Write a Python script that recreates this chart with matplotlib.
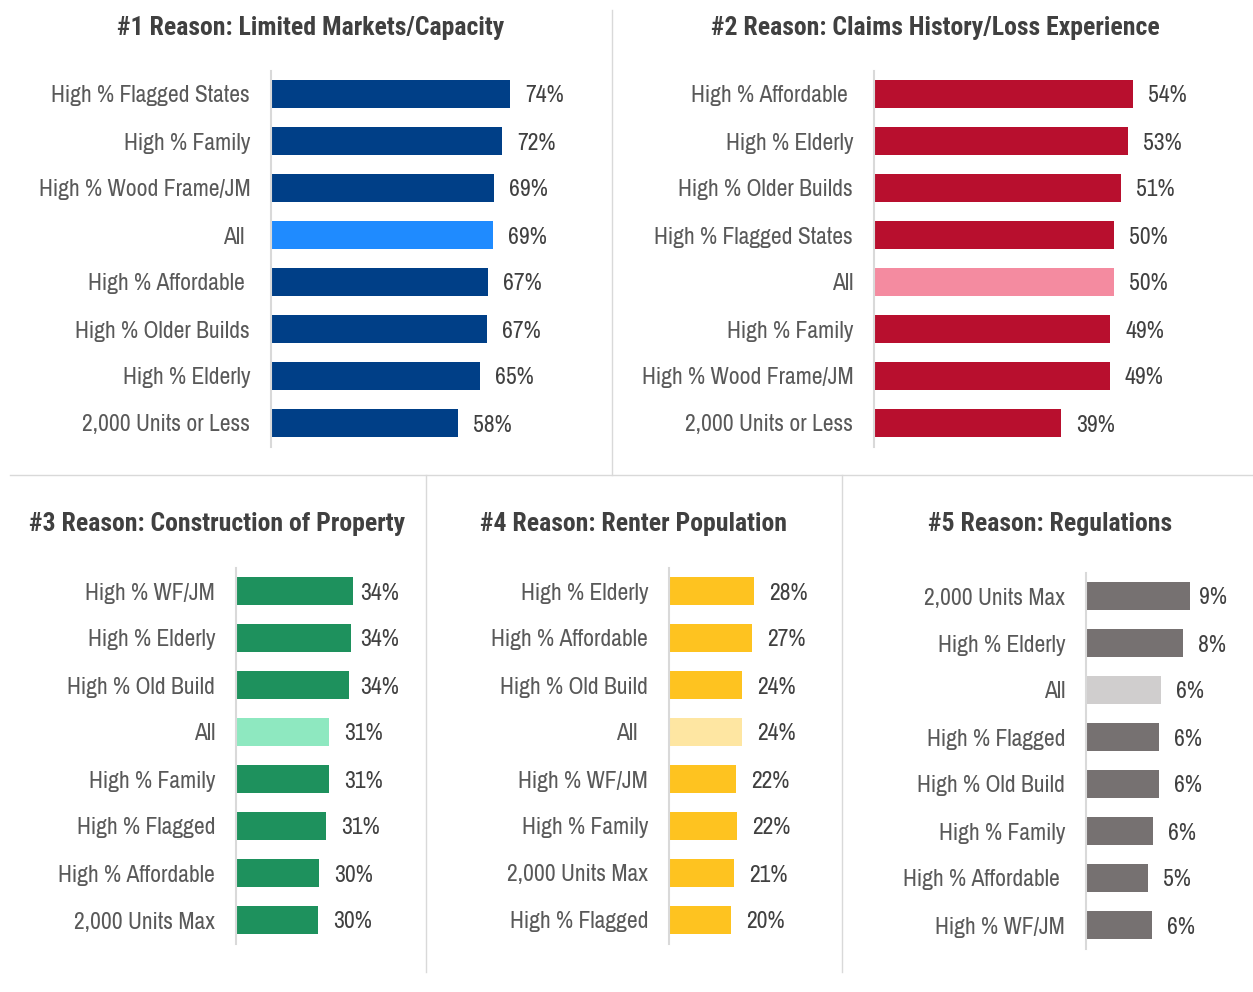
import matplotlib
matplotlib.use("Agg")
from matplotlib import pyplot as plt
from matplotlib.lines import Line2D
import warnings

warnings.filterwarnings("ignore")
LABEL_FONT = ['Archivo Narrow', 'Liberation Sans Narrow', 'DejaVu Sans']
TITLE_FONT = ['Roboto Condensed', 'Asap Condensed', 'DejaVu Sans']
plt.rcParams['font.family'] = LABEL_FONT

W, H = 1253, 992

# data
titles = [
    "#1 Reason: Limited Markets/Capacity",
    "#2 Reason: Claims History/Loss Experience",
    "#3 Reason: Construction of Property",
    "#4 Reason: Renter Population",
    "#5 Reason: Regulations",
]

cats1 = ["High % Flagged States", "High % Family", "High % Wood Frame/JM", "All ",
         "High % Affordable ", "High % Older Builds", "High % Elderly", "2,000 Units or Less"]
vals1 = [74.1, 71.6, 68.9, 68.6, 67.1, 66.8, 64.6, 57.9]

cats2 = ["High % Affordable ", "High % Elderly", "High % Older Builds", "High % Flagged States",
         "All", "High % Family", "High % Wood Frame/JM", "2,000 Units or Less"]
vals2 = [53.9, 52.9, 51.4, 49.9, 49.9, 49.2, 49.1, 38.9]

cats3 = ["High % WF/JM", "High % Elderly", "High % Old Build", "All",
         "High % Family", "High % Flagged", "High % Affordable", "2,000 Units Max"]
vals3 = [34.1, 33.9, 33.6, 31.2, 31.2, 30.8, 30.0, 29.9]

cats4 = ["High % Elderly", "High % Affordable", "High % Old Build", "All  ",
         "High % WF/JM", "High % Family", "2,000 Units Max", "High % Flagged"]
vals4 = [28.0, 27.3, 24.0, 23.9, 22.0, 22.3, 21.3, 20.4]

cats5 = ["2,000 Units Max", "High % Elderly", "All", "High % Flagged",
         "High % Old Build", "High % Family", "High % Affordable ", "High % WF/JM"]
vals5 = [8.9, 8.3, 6.4, 6.2, 6.2, 5.7, 5.3, 5.6]

colors = [("#003f87", "#1f8bff"), ("#b80f2e", "#f48ba0"), ("#1e915d", "#8ee8c0"),
          ("#fec320", "#fee6a2"), ("#767171", "#d0cece")]

# layout: axis x, axes top, width, xmin, px per %, label cap x, title center x, title y
layout = [
    (271, 70.5, 330, 0, 3.23, 9999, 311, 28),
    (874, 70.5, 370, 0, 4.8, 9999, 935, 28),
    (236, 567.5, 180, 20, 8.3, 360, 217, 524),
    (669, 567.5, 165, 0, 3.05, 9999, 633, 524),
    (1086, 572.5, 160, 0, 11.7, 1199, 1050, 524),
]

panels = [(cats1, vals1), (cats2, vals2), (cats3, vals3), (cats4, vals4), (cats5, vals5)]

fig = plt.figure(figsize=(W / 100, H / 100), dpi=100)

for (cats, vals), (dark, light), title, (ax_x, top, width, xmin, k, cap, tx, ty) in zip(
        panels, colors, titles, layout):
    height = 47 * len(cats)
    ax = fig.add_axes([ax_x / W, 1 - (top + height) / H, width / W, height / H])
    pos = list(range(len(cats)))
    bar_colors = [light if c.strip() == "All" else dark for c in cats]
    ax.barh(pos, [v - xmin for v in vals], left=xmin, height=0.58, color=bar_colors)
    ax.set_xlim(xmin, xmin + width / k)
    ax.set_ylim(len(cats) - 0.5, -0.5)
    ax.set_yticks(pos)
    ax.set_yticklabels(cats, fontsize=17, color="#595959")
    ax.tick_params(axis='y', length=0, pad=15)
    ax.set_xticks([])
    for s in ["top", "right", "bottom"]:
        ax.spines[s].set_visible(False)
    ax.spines["left"].set_color("#d9d9d9")
    ax.spines["left"].set_linewidth(1.5)
    cap_data = xmin + (cap - ax_x) / k
    for p, v in zip(pos, vals):
        x = min(v + 15 / k, cap_data)
        ax.text(x, p, f"{v:.0f}%", fontsize=17, color="#404040", va="center_baseline", ha="left")
    fig.text(tx / W, 1 - ty / H, title, fontsize=18.5, fontweight="bold", color="#404040",
             ha="center", va="center", family=TITLE_FONT)

sep = "#d9d9d9"
fig.add_artist(Line2D([10 / W, 1], [1 - 475 / H, 1 - 475 / H], color=sep, lw=1))
fig.add_artist(Line2D([612 / W, 612 / W], [1 - 10 / H, 1 - 475 / H], color=sep, lw=1))
fig.add_artist(Line2D([426 / W, 426 / W], [1 - 475 / H, 1 - 972 / H], color=sep, lw=1))
fig.add_artist(Line2D([842 / W, 842 / W], [1 - 475 / H, 1 - 972 / H], color=sep, lw=1))

fig.savefig("out.png", dpi=100)
